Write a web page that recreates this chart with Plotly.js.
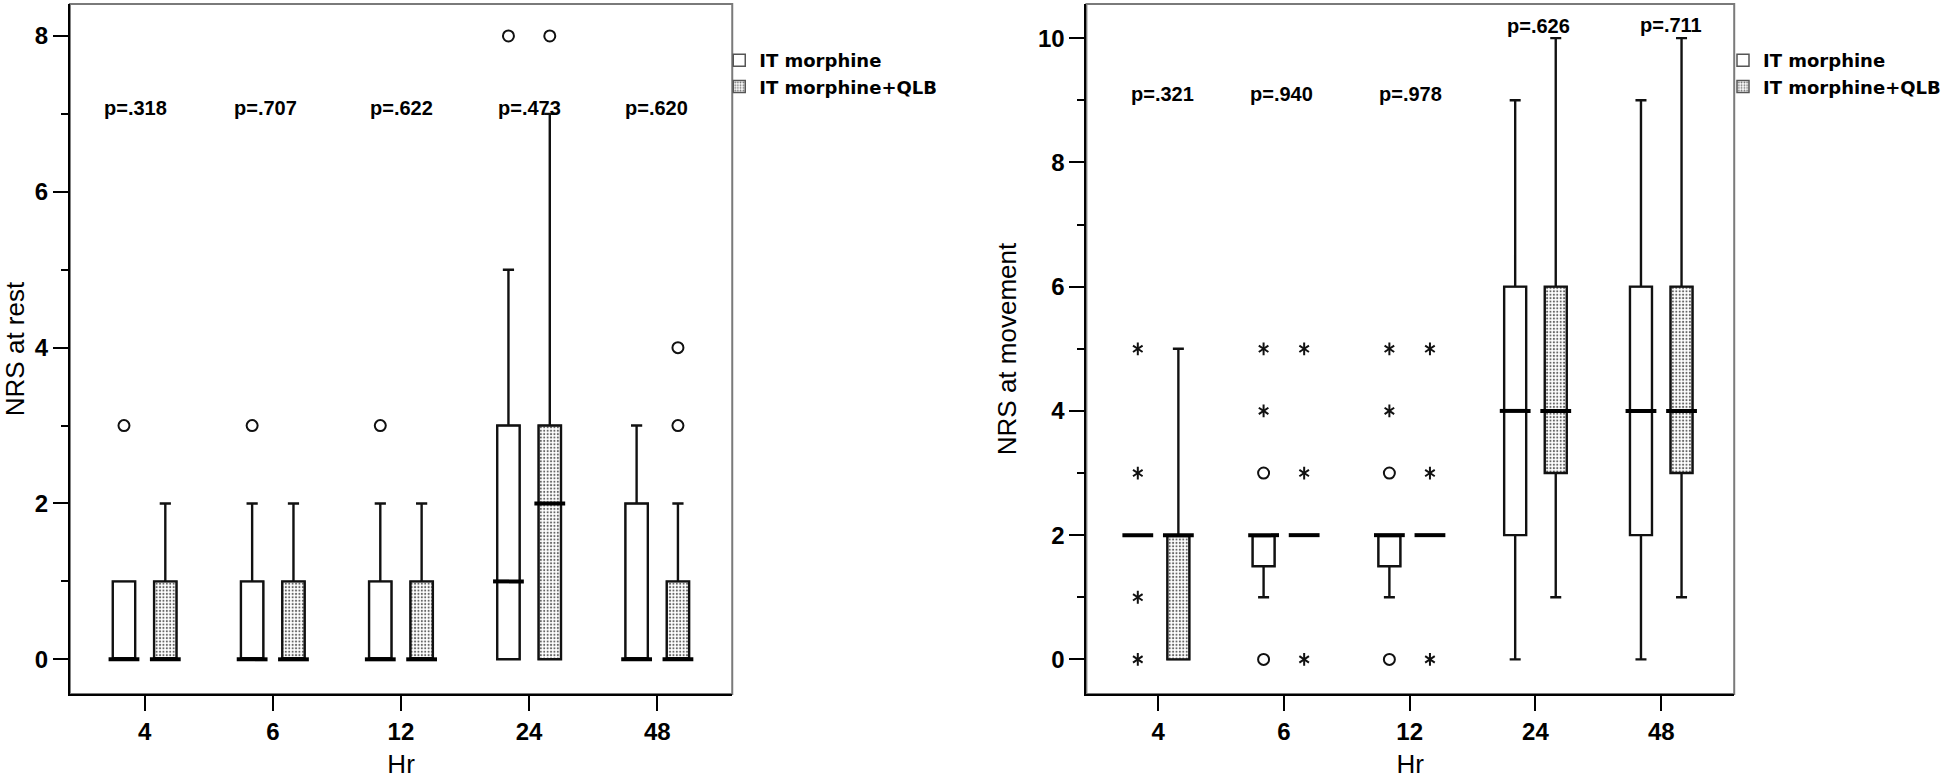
<!DOCTYPE html>
<html>
<head>
<meta charset="utf-8">
<script src="https://cdn.plot.ly/plotly-3.0.1.min.js"></script>
<style>
html,body{margin:0;padding:0;background:#fff;}
#chart{width:1946px;height:779px;}
</style>
</head>
<body>
<div id="chart"></div>
<script>
// ---------- data ----------
const hours = ['4', '6', '12', '24', '48'];
const groupNames = ['IT morphine', 'IT morphine+QLB'];

// NRS at rest : IT morphine
const restMorQ1  = [0, 0, 0, 0, 0];
const restMorMed = [0, 0, 0, 1, 0];
const restMorQ3  = [1, 1, 1, 3, 2];
const restMorLo  = [0, 0, 0, 0, 0];
const restMorHi  = [1, 2, 2, 5, 3];
// NRS at rest : IT morphine+QLB
const restQlbQ1  = [0, 0, 0, 0, 0];
const restQlbMed = [0, 0, 0, 2, 0];
const restQlbQ3  = [1, 1, 1, 3, 1];
const restQlbLo  = [0, 0, 0, 0, 0];
const restQlbHi  = [2, 2, 2, 7, 2];
// NRS at rest outliers (circles)
const restMorOutX = ['4', '6', '12', '24'];
const restMorOutY = [3, 3, 3, 8];
const restQlbOutX = ['24', '48', '48'];
const restQlbOutY = [8, 3, 4];

// NRS at movement : IT morphine
const moveMorQ1  = [2, 1.5, 1.5, 2, 2];
const moveMorMed = [2, 2, 2, 4, 4];
const moveMorQ3  = [2, 2, 2, 6, 6];
const moveMorLo  = [2, 1, 1, 0, 0];
const moveMorHi  = [2, 2, 2, 9, 9];
// NRS at movement : IT morphine+QLB
const moveQlbQ1  = [0, 2, 2, 3, 3];
const moveQlbMed = [2, 2, 2, 4, 4];
const moveQlbQ3  = [2, 2, 2, 6, 6];
const moveQlbLo  = [0, 2, 2, 1, 1];
const moveQlbHi  = [5, 2, 2, 10, 10];
// NRS at movement outliers
const moveMorOutX = ['6', '6', '12', '12'];          // circles
const moveMorOutY = [0, 3, 0, 3];
const moveMorExtX = ['4', '4', '4', '4', '6', '6', '12', '12']; // stars
const moveMorExtY = [0, 1, 3, 5, 4, 5, 4, 5];
const moveQlbOutX = [];
const moveQlbOutY = [];
const moveQlbExtX = ['6', '6', '6', '12', '12', '12'];
const moveQlbExtY = [0, 3, 5, 0, 3, 5];

// p-values
const restP = ['p=.318', 'p=.707', 'p=.622', 'p=.473', 'p=.620'];
const moveP = ['p=.321', 'p=.940', 'p=.978', 'p=.626', 'p=.711'];

// ---------- styling ----------
const FONT = 'Liberation Sans, Arial, sans-serif';
const LEGFONT = 'DejaVu Sans, Verdana, sans-serif';
const GAP = 0.355, GROUPGAP = 0.457;

function addPanel(traces, xa, ya, legendId, series, outliers, boxPx) {
  const groups = ['m', 'q'];
  // box bodies (white / stippled fill) as bars from q1 to q3
  series.forEach((s, k) => {
    const marker = {color: '#ffffff', line: {color: '#555555', width: 1.5}};
    if (k === 1) {
      marker.pattern = {shape: '.', size: 3.4, solidity: 0.3, fgcolor: '#666666', bgcolor: '#ffffff', fillmode: 'replace'};
    }
    traces.push({
      type: 'bar', xaxis: xa, yaxis: ya, legend: legendId,
      name: groupNames[k], offsetgroup: groups[k],
      x: hours, base: s.q1, y: s.q3.map((v, i) => v - s.q1[i]),
      marker: marker, hoverinfo: 'skip', showlegend: true
    });
  });
  // boxes: whiskers, caps, outlines
  series.forEach((s, k) => {
    traces.push({
      type: 'box', xaxis: xa, yaxis: ya, legend: legendId,
      name: groupNames[k], offsetgroup: groups[k],
      x: hours, q1: s.q1, median: s.med, q3: s.q3,
      lowerfence: s.lo, upperfence: s.hi,
      boxpoints: false, fillcolor: 'rgba(0,0,0,0)',
      line: {color: '#111111', width: 2.4}, whiskerwidth: 0.5,
      showlegend: false, hoverinfo: 'skip'
    });
  });
  // thick median bars
  series.forEach((s, k) => {
    traces.push({
      type: 'scatter', mode: 'markers', xaxis: xa, yaxis: ya, legend: legendId,
      orientation: 'v', offsetgroup: groups[k], showlegend: false, hoverinfo: 'skip',
      x: hours, y: s.med,
      marker: {symbol: 'line-ew-open', size: boxPx, color: '#000000', line: {width: 4}}
    });
  });
  // outliers: circles (mild) and stars (extreme)
  outliers.forEach((o, k) => {
    traces.push({
      type: 'scatter', mode: 'markers', xaxis: xa, yaxis: ya, legend: legendId,
      orientation: 'v', offsetgroup: groups[k], showlegend: false, hoverinfo: 'skip',
      x: o.cx, y: o.cy,
      marker: {symbol: 'circle-open', size: 11, color: '#111111', line: {width: 2}}
    });
    ['y-up-open', 'y-down-open'].forEach(sym => {
      traces.push({
        type: 'scatter', mode: 'markers', xaxis: xa, yaxis: ya, legend: legendId,
        orientation: 'v', offsetgroup: groups[k], showlegend: false, hoverinfo: 'skip',
        x: o.sx, y: o.sy,
        marker: {symbol: sym, size: 8, color: '#111111', line: {width: 2}}
      });
    });
  });
}

const traces = [];
addPanel(traces, 'x', 'y', 'legend',
  [{q1: restMorQ1, med: restMorMed, q3: restMorQ3, lo: restMorLo, hi: restMorHi},
   {q1: restQlbQ1, med: restQlbMed, q3: restQlbQ3, lo: restQlbLo, hi: restQlbHi}],
  [{cx: restMorOutX, cy: restMorOutY, sx: [], sy: []},
   {cx: restQlbOutX, cy: restQlbOutY, sx: [], sy: []}], 22);
addPanel(traces, 'x2', 'y2', 'legend2',
  [{q1: moveMorQ1, med: moveMorMed, q3: moveMorQ3, lo: moveMorLo, hi: moveMorHi},
   {q1: moveQlbQ1, med: moveQlbMed, q3: moveQlbQ3, lo: moveQlbLo, hi: moveQlbHi}],
  [{cx: moveMorOutX, cy: moveMorOutY, sx: moveMorExtX, sy: moveMorExtY},
   {cx: moveQlbOutX, cy: moveQlbOutY, sx: moveQlbExtX, sy: moveQlbExtY}], 22);

const W = 1946;
function xAx(domain, anchor, range) {
  return {
    domain: domain, anchor: anchor, type: 'category', range: range,
    categoryorder: 'array', categoryarray: hours,
    ticks: 'outside', ticklen: 15, tickwidth: 2, tickcolor: '#000',
    showline: true, linecolor: '#000', linewidth: 2, mirror: false,
    showgrid: false, zeroline: false, fixedrange: true,
    tickfont: {family: FONT, size: 24, weight: 'bold', color: '#000'},
    title: {text: 'Hr', font: {family: FONT, size: 26, color: '#000'}, standoff: 31}
  };
}
function yAx(anchor, range, title) {
  return {
    domain: [0, 1], anchor: anchor, type: 'linear', range: range,
    tickmode: 'linear', tick0: 0, dtick: 2,
    ticks: 'outside', ticklen: 15, tickwidth: 2, tickcolor: '#000',
    minor: {ticks: 'outside', ticklen: 7, tickwidth: 2, tickcolor: '#000', tick0: 0, dtick: 1, showgrid: false},
    showline: true, linecolor: '#000', linewidth: 2, mirror: false,
    showgrid: false, zeroline: false, fixedrange: true,
    tickfont: {family: FONT, size: 24, weight: 'bold', color: '#000'},
    title: {text: title, font: {family: FONT, size: 26, color: '#000'}, standoff: 14}
  };
}
function legendAt(x) {
  return {
    x: x, y: 0.945, xanchor: 'left', yanchor: 'top', orientation: 'v',
    bgcolor: 'rgba(0,0,0,0)', borderwidth: 0, traceorder: 'normal',
    font: {family: LEGFONT, size: 18, weight: 'bold', color: '#000'},
    itemclick: false, itemdoubleclick: false
  };
}

const annotations = [];
const restShift = [-9, -7, 1, 0, -1];
restP.forEach((t, i) => annotations.push({
  xref: 'x', yref: 'y', x: i, y: 7.07, text: t, showarrow: false,
  xshift: restShift[i], xanchor: 'center', yanchor: 'middle',
  font: {family: FONT, size: 20, weight: 'bold', color: '#000'}
}));
const moveShift = [4, -2, 1, 3, 10];
const moveYpos = [9.10, 9.10, 9.10, 10.19, 10.22];
moveP.forEach((t, i) => annotations.push({
  xref: 'x2', yref: 'y2', x: i, y: moveYpos[i], text: t, showarrow: false,
  xshift: moveShift[i], xanchor: 'center', yanchor: 'middle',
  font: {family: FONT, size: 20, weight: 'bold', color: '#000'}
}));

const frame = (xr, yr) => ({
  type: 'rect', xref: xr + ' domain', yref: yr + ' domain', x0: 0, x1: 1, y0: 0, y1: 1,
  line: {color: '#7a7a7a', width: 2}, fillcolor: 'rgba(0,0,0,0)', layer: 'below'
});

const layout = {
  width: W, height: 779, autosize: false,
  margin: {l: 0, r: 0, t: 4, b: 85, pad: 0},
  paper_bgcolor: '#ffffff', plot_bgcolor: '#ffffff',
  font: {family: FONT, color: '#000'},
  showlegend: true,
  barmode: 'group', bargap: GAP, bargroupgap: GROUPGAP,
  boxmode: 'group', boxgap: GAP, boxgroupgap: GROUPGAP,
  scattermode: 'group', scattergap: GAP,
  xaxis: xAx([70 / W, 733 / W], 'y', [-0.583, 4.585]),
  yaxis: yAx('x', [-0.445, 8.41], 'NRS at rest'),
  xaxis2: xAx([1087.5 / W, 1736 / W], 'y2', [-0.57, 4.58]),
  yaxis2: yAx('x2', [-0.557, 10.55], 'NRS at movement'),
  legend: legendAt(720 / W),
  legend2: legendAt(1725 / W),
  annotations: annotations,
  shapes: [frame('x', 'y'), frame('x2', 'y2')]
};

Plotly.newPlot('chart', traces, layout, {displayModeBar: false, staticPlot: true});
</script>
</body>
</html>
